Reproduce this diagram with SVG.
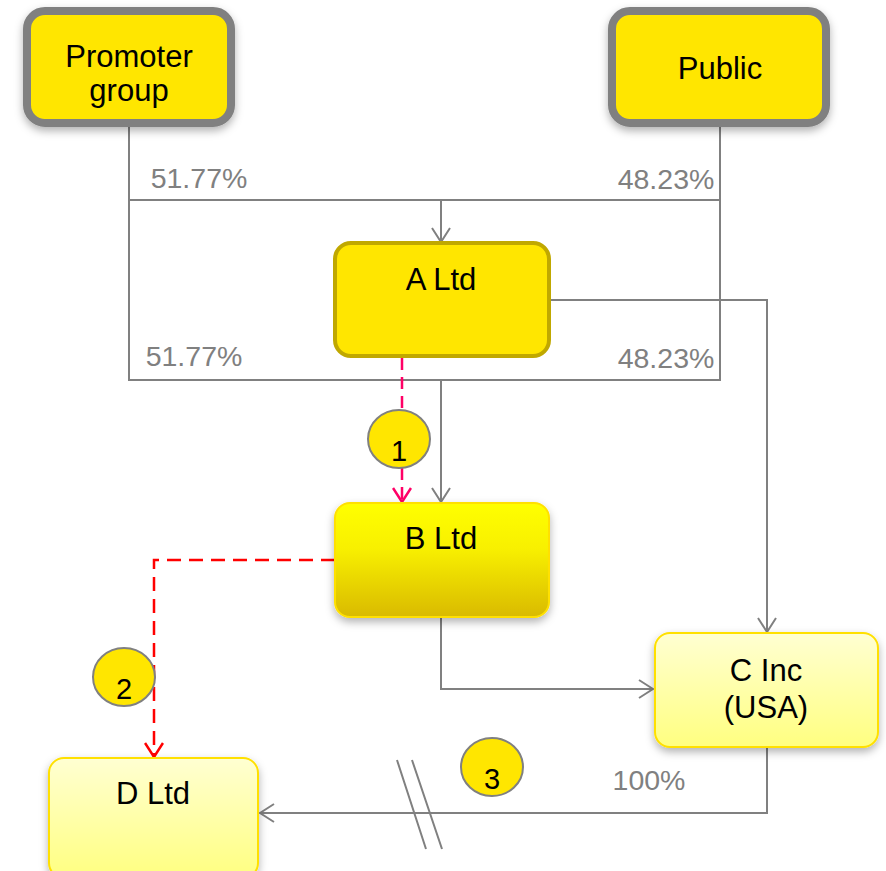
<svg xmlns="http://www.w3.org/2000/svg" width="886" height="871" viewBox="0 0 886 871">
<style>
text{font-family:"Liberation Sans",Arial,sans-serif;font-size:31px;fill:#000;text-anchor:middle}
.pct{fill:#808080;font-size:28.5px}
.ln{fill:none;stroke:#808080;stroke-width:2}
.num{font-size:29px}
.circ{fill:#FFE600;stroke:#808080;stroke-width:2}
</style>
<defs>
<filter id="sh" x="-20%" y="-20%" width="140%" height="150%">
<feDropShadow dx="0" dy="4" stdDeviation="4" flood-color="#000" flood-opacity="0.3"/>
</filter>
<linearGradient id="gB" x1="0" y1="0" x2="0" y2="1">
<stop offset="0" stop-color="#FFFF00"/><stop offset="0.4" stop-color="#F8F000"/><stop offset="1" stop-color="#D9BA00"/>
</linearGradient>
<linearGradient id="gL" x1="0" y1="0" x2="0" y2="1">
<stop offset="0" stop-color="#FFFFD2"/><stop offset="1" stop-color="#FFFF80"/>
</linearGradient>
<marker id="ag" viewBox="0 0 16 20" refX="15" refY="10" markerWidth="16" markerHeight="20" markerUnits="userSpaceOnUse" orient="auto">
<path d="M1,1 L15,10 L1,19" fill="none" stroke="#808080" stroke-width="2"/>
</marker>
<marker id="ap" viewBox="0 0 16 20" refX="15" refY="10" markerWidth="16" markerHeight="20" markerUnits="userSpaceOnUse" orient="auto">
<path d="M1,1 L15,10 L1,19" fill="none" stroke="#FF0066" stroke-width="2.5"/>
</marker>
<marker id="ar" viewBox="0 0 16 20" refX="15" refY="10" markerWidth="16" markerHeight="20" markerUnits="userSpaceOnUse" orient="auto">
<path d="M1,1 L15,10 L1,19" fill="none" stroke="#FF0000" stroke-width="2.5"/>
</marker>
</defs>

<g id="connectors">
<path class="ln" d="M129,127 V380 H720 V127"/>
<path class="ln" d="M129,200 H720"/>
<path class="ln" d="M441,200 V242" marker-end="url(#ag)"/>
<path class="ln" d="M441,380 V502" marker-end="url(#ag)"/>
<path class="ln" d="M550,300 H767 V632" marker-end="url(#ag)"/>
<path class="ln" d="M441,617 V689 H653" marker-end="url(#ag)"/>
<path class="ln" d="M767,747 V813 H260" marker-end="url(#ag)"/>
<path class="ln" d="M397,760 L426,849 M412,760 L442,849"/>
<path d="M402,358 V410 M402,468 V502" fill="none" stroke="#FF0066" stroke-width="2.5" stroke-dasharray="12,7" marker-end="url(#ap)"/>
<path d="M335,560 H154 V757" fill="none" stroke="#FF0000" stroke-width="2.5" stroke-dasharray="14,8" marker-end="url(#ar)"/>
</g>

<g id="labels">
<text class="pct" x="199" y="188">51.77%</text>
<text class="pct" x="666" y="189">48.23%</text>
<text class="pct" x="194" y="366">51.77%</text>
<text class="pct" x="666" y="368">48.23%</text>
<text class="pct" x="649" y="790">100%</text>
</g>

<g id="promoter">
<rect x="27" y="11" width="204" height="112" rx="18" fill="#FFE600" stroke="#808080" stroke-width="8" filter="url(#sh)"/>
<text x="129" y="67">Promoter</text>
<text x="129" y="101">group</text>
</g>

<g id="public">
<rect x="612" y="11" width="214" height="112" rx="18" fill="#FFE600" stroke="#808080" stroke-width="8" filter="url(#sh)"/>
<text x="720" y="79">Public</text>
</g>

<g id="altd">
<rect x="335" y="243" width="214" height="113" rx="16" fill="#FFE600" stroke="#C0A800" stroke-width="4"/>
<text x="441" y="290">A Ltd</text>
</g>

<g id="bltd">
<rect x="335" y="503" width="214" height="114" rx="15" fill="url(#gB)" stroke="#FFE000" stroke-width="2" filter="url(#sh)"/>
<text x="441" y="549">B Ltd</text>
</g>

<g id="cinc">
<rect x="655" y="633" width="223" height="114" rx="15" fill="url(#gL)" stroke="#FFE000" stroke-width="2" filter="url(#sh)"/>
<text x="766" y="681">C Inc</text>
<text x="766" y="718">(USA)</text>
</g>

<g id="dltd">
<rect x="49" y="758" width="209" height="120" rx="15" fill="url(#gL)" stroke="#FFE000" stroke-width="2" filter="url(#sh)"/>
<text x="153" y="804">D Ltd</text>
</g>

<g id="c1">
<ellipse class="circ" cx="399" cy="439" rx="31" ry="29"/>
<text class="num" x="399" y="461">1</text>
</g>
<g id="c2">
<ellipse class="circ" cx="124" cy="677" rx="31" ry="29"/>
<text class="num" x="124" y="699">2</text>
</g>
<g id="c3">
<ellipse class="circ" cx="492" cy="767" rx="31" ry="29"/>
<text class="num" x="492" y="789">3</text>
</g>
</svg>
